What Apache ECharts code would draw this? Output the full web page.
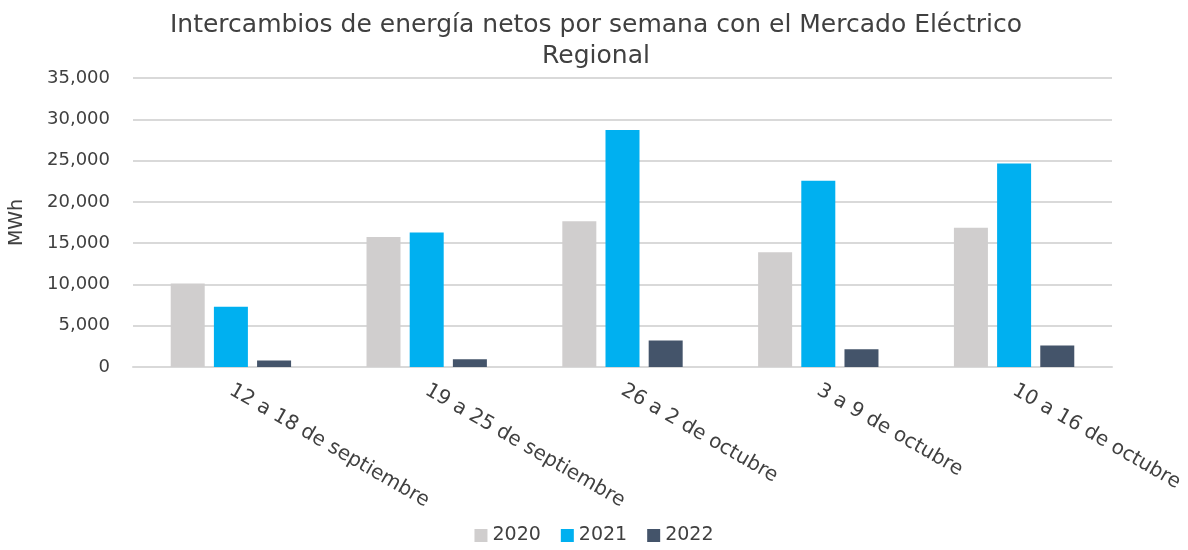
<!DOCTYPE html>
<html>
<head>
<meta charset="utf-8">
<script src="https://cdn.jsdelivr.net/npm/echarts@6/dist/echarts.min.js"></script>
<style>
  html, body { margin: 0; padding: 0; background: #fff; }
  #chart { width: 1188px; height: 550px; }
</style>
</head>
<body>
<div id="chart"></div>
<script>
var semanas = ['12 a 18 de septiembre', '19 a 25 de septiembre', '26 a 2 de octubre', '3 a 9 de octubre', '10 a 16 de octubre'];
var valores2020 = [10100, 15750, 17650, 13900, 16850];
var valores2021 = [7300, 16300, 28700, 22550, 24650];
var valores2022 = [800, 950, 3200, 2150, 2600];

var fuente = 'DejaVu Sans';
var textColor = '#404040';

var myChart = echarts.init(document.getElementById('chart'));

var option = {
    animation: false,
    textStyle: { fontFamily: fuente },
    title: {
        text: 'Intercambios de energía netos por semana con el Mercado Eléctrico\nRegional',
        left: 591, top: 5, textAlign: 'center',
        textStyle: { fontFamily: fuente, fontSize: 25, fontWeight: 'normal', color: textColor, lineHeight: 31 }
    },
    legend: {
        bottom: 0, left: 'center',
        itemWidth: 13, itemHeight: 13, itemGap: 20,
        icon: 'rect',
        textStyle: { fontFamily: fuente, fontSize: 19, color: textColor },
        data: ['2020', '2021', '2022']
    },
    grid: { left: 133, right: 76, top: 78, bottom: 183, containLabel: false },
    xAxis: {
        type: 'category',
        data: semanas,
        axisLine: { lineStyle: { color: '#D9D9D9', width: 2 } },
        axisTick: { show: false },
        axisLabel: { rotate: -30, fontSize: 20, color: textColor, fontFamily: fuente, margin: 22, interval: 0 }
    },
    yAxis: {
        type: 'value',
        min: 0, max: 35000, interval: 5000,
        name: 'MWh', nameLocation: 'middle', nameGap: 106, nameRotate: 90,
        nameTextStyle: { fontSize: 19, color: textColor, fontFamily: fuente },
        axisLine: { show: false },
        axisTick: { show: false },
        splitLine: { lineStyle: { color: '#D9D9D9', width: 2 } },
        axisLabel: {
            fontSize: 18, color: textColor, fontFamily: fuente, margin: 23,
            formatter: function (v) { return v.toLocaleString('en-US'); }
        }
    },
    series: [
        { name: '2020', type: 'bar', data: valores2020, barWidth: 34, barGap: '27%', itemStyle: { color: '#D0CECE' } },
        { name: '2021', type: 'bar', data: valores2021, barWidth: 34, barGap: '27%', itemStyle: { color: '#00B0F0' } },
        { name: '2022', type: 'bar', data: valores2022, barWidth: 34, barGap: '27%', itemStyle: { color: '#44546A' } }
    ]
};

myChart.setOption(option);
</script>
</body>
</html>
